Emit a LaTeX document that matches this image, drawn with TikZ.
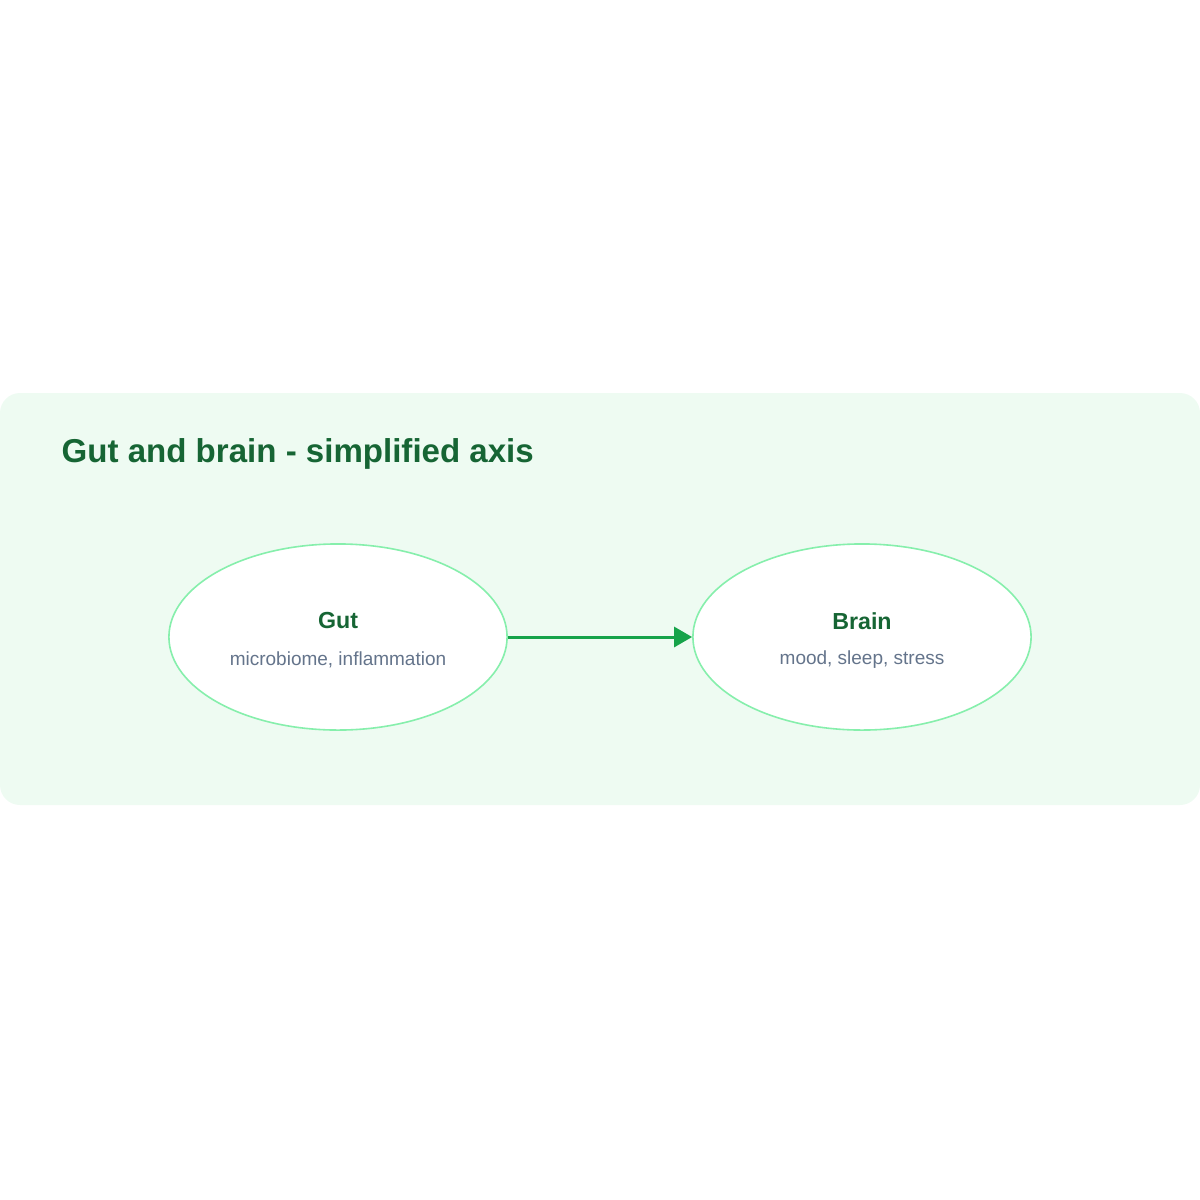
\documentclass[tikz,border=0pt]{standalone}
\usepackage{fontspec}
\setmainfont{Liberation Sans}
\usetikzlibrary{shapes.geometric,arrows.meta,positioning}
\definecolor{panelbg}{HTML}{EEFBF2}
\definecolor{titlegreen}{HTML}{166534}
\definecolor{edgegreen}{HTML}{86EFAC}
\definecolor{arrowgreen}{HTML}{16A34A}
\definecolor{subgrey}{HTML}{64748B}
\tikzset{
  organ/.style={ellipse, draw=edgegreen, line width=0.16mm, fill=white,
    minimum width=3.38cm, minimum height=1.86cm, inner sep=0pt, align=center},
  link/.style={draw=arrowgreen, line width=0.3mm, -{Triangle[length=1.8mm,width=2mm]}}
}
\begin{document}
\begin{tikzpicture}[x=0.01cm,y=-0.01cm]
	\useasboundingbox (0,0) rectangle (1200,1200);
	\fill[panelbg, rounded corners=0.2cm] (0,393) rectangle (1200,805);
	\node[anchor=base west, inner sep=0pt, text=titlegreen, font=\fontsize{9.4pt}{11pt}\selectfont\bfseries] (title) at (61,462) {Gut and brain - simplified axis};
	
	\node[organ] (gut) at (338,637) {};
	\node[organ] (brain) at (862,637) {};
	\foreach \n/\t/\s in {gut/Gut/{microbiome, inflammation}, brain/Brain/{mood, sleep, stress}}{
		\node[text=titlegreen, font=\fontsize{6.6pt}{8pt}\selectfont\bfseries] (\n-name) at ([yshift=0.16cm]\n.center) {\t};
		\node[text=subgrey, font=\fontsize{5.4pt}{6pt}\selectfont] (\n-note) at ([yshift=-0.23cm]\n.center) {\s};
	}
	\draw[link] (gut) -- (brain);
\end{tikzpicture}
\end{document}
